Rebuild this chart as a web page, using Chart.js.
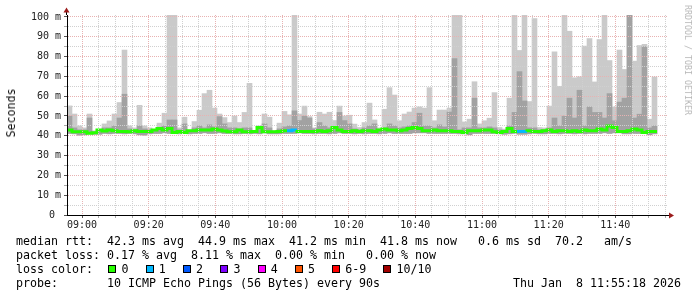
<!DOCTYPE html>
<html>
<head>
<meta charset="utf-8">
<script src="https://cdn.jsdelivr.net/npm/chart.js@4.4.1/dist/chart.umd.min.js"></script>
<style>
html,body{margin:0;padding:0;background:#fff;}
#wrap{position:relative;width:697px;height:297px;overflow:hidden;background:#fff;}
#c{position:absolute;left:0;top:0;}
.t{position:absolute;font-family:"DejaVu Sans Mono",monospace;font-size:11.63px;line-height:14px;white-space:pre;color:#000;}
.box{position:absolute;width:6px;height:6px;border:1px solid #000;}
.rot{position:absolute;white-space:pre;font-family:"DejaVu Sans Mono",monospace;transform-origin:center center;}
</style>
</head>
<body>
<div id="wrap">
<canvas id="c" width="697" height="297"></canvas>
</div>
<script>
// ---- data: one column every 90 s starting 08:55:30 (minutes relative to 09:00) ----
const startMinute = -4.5;
const stepMinutes = 1.5;

const maxRtt = [
  55.1, 51, 45, 44, 51, 42.5, 42.5, 46, 47.5, 51,
  56.8, 83.3, 45, 44, 55.4, 45, 44, 43, 46.4, 51.4,
  101, 101, 44, 49.4, 42.5, 47.2, 52.9, 61.3, 63, 54,
  51, 49.2, 46.7, 50, 46.7, 51.8, 66.5, 42.5, 45, 51,
  49.4, 42.5, 46.4, 52.3, 50.6, 101, 51, 55, 49.7, 44,
  51.9, 51, 51.9, 47.7, 55, 50, 50.4, 45.9, 44.2, 46.7,
  56.5, 48, 44, 53.4, 64.3, 60.6, 47.6, 51, 52, 54,
  54.6, 54, 64.3, 47.6, 53, 53, 54, 101, 101, 47,
  48.4, 67.3, 46, 47.6, 48.9, 61.8, 44.2, 43.4, 59, 101,
  83.1, 101, 57.3, 99.2, 44.2, 44, 55, 82.4, 65, 101,
  92.8, 69.3, 69.8, 85.3, 89.1, 67.2, 88.6, 101, 78, 54.6,
  83.3, 73.5, 101, 77.7, 85.6, 86.2, 48.4, 69.7
];
const upperRtt = [
  50, 44, 43, 43, 49, 42, 42, 44, 44, 45,
  49, 61, 43.5, 43, 45, 43.5, 43, 42.8, 44, 45,
  48, 48, 43, 46, 42.3, 44, 45, 44, 45.5, 44.5,
  49.7, 46, 44, 44, 43.5, 44, 44, 42.3, 43.5, 46,
  44, 42.3, 43.5, 44.5, 45, 52.6, 47.7, 50, 49, 43.5,
  46.7, 45, 44, 44, 51.8, 47.7, 46, 43.5, 43, 44,
  45, 46, 43, 44, 46, 45, 44, 44.5, 45, 46.7,
  51.4, 45, 45, 44, 45.5, 44.5, 52, 79, 43, 44,
  44, 59, 44, 44, 44.5, 44, 43, 42.8, 45, 51.8,
  72.4, 57.6, 44, 44, 43, 43, 44, 49, 45, 50,
  59, 49, 63, 45, 54.6, 51.8, 51.8, 49, 61.3, 47.6,
  57, 59, 101, 49, 50.9, 85, 44, 45
];
const medianRtt = [
  42.9, 42.9, 42, 42, 42, 41.3, 41.5, 42.9, 42.4, 42.9,
  42.5, 42.2, 42.2, 42, 42.5, 42.2, 42.2, 42.2, 42.9, 43.7,
  42.9, 43.7, 41.7, 42.2, 41.7, 42.5, 42.5, 42.9, 42.9, 42.9,
  43.4, 42.9, 42.4, 42, 42, 42.9, 42, 42, 42.2, 44.2,
  42, 42, 42, 42.2, 42.5, 42.5, 42.9, 42.2, 42.2, 42.2,
  42.2, 42.5, 42.2, 42.5, 44.2, 42.9, 42.2, 42.2, 42.5, 42.2,
  42.5, 42.5, 42.2, 42.9, 43.4, 42.9, 42.9, 42.5, 42.9, 43.7,
  44.2, 43.7, 42.5, 42.5, 42.9, 42.5, 42.5, 42.5, 42.2, 42.2,
  41.7, 42.5, 42.5, 42.5, 42.9, 42.9, 42, 41.7, 42.2, 43.7,
  42.2, 42.2, 42.2, 42.5, 42.2, 42.2, 42.5, 42.9, 42.2, 42.5,
  42.5, 42.2, 42.5, 42.2, 42.9, 42.5, 42.5, 43.4, 42.9, 44.9,
  44.2, 42.2, 42.2, 42.5, 43.4, 42.9, 41.7, 42.2
];
const minRtt = [
  41.2, 41.0, 40.3, 40.5, 41.0, 40.8, 40.8, 41.2, 41.0, 41.2,
  41.2, 41.0, 41.2, 41.0, 40.5, 40.3, 41.0, 41.2, 41.2, 41.5,
  41.2, 41.5, 41.0, 41.2, 41.0, 41.2, 41.2, 41.5, 41.2, 41.2,
  41.5, 41.2, 41.2, 41.0, 41.0, 41.2, 41.0, 41.2, 41.0, 41.5,
  41.0, 41.0, 41.0, 41.2, 41.2, 41.2, 41.5, 41.2, 41.2, 41.0,
  41.2, 41.2, 41.0, 41.2, 41.5, 41.2, 41.2, 41.0, 41.2, 41.0,
  41.2, 41.2, 41.0, 41.2, 41.5, 41.2, 41.2, 41.2, 41.2, 41.5,
  41.5, 41.5, 41.2, 41.2, 41.2, 41.2, 41.2, 41.2, 41.0, 41.0,
  40.5, 41.2, 41.2, 41.2, 41.2, 41.2, 41.0, 40.8, 41.0, 41.2,
  40.8, 40.8, 41.0, 41.2, 41.0, 41.0, 41.2, 41.2, 41.0, 41.2,
  41.2, 41.0, 41.2, 41.0, 41.2, 41.2, 41.2, 41.5, 41.2, 41.5,
  41.5, 41.0, 41.0, 41.2, 41.2, 41.2, 40.5, 41.0
];
const lossCount = [
  0,0,0,0,0,0,0,0,0,0, 0,0,0,0,0,0,0,0,0,0,
  0,0,0,0,0,0,0,0,0,0, 0,0,0,0,0,0,0,0,0,0,
  0,0,0,0,1,1,0,0,0,0, 0,0,0,0,0,0,0,0,0,0,
  0,0,0,0,0,0,0,0,0,0, 0,0,0,0,0,0,0,0,0,0,
  0,0,0,0,0,0,0,0,0,0, 1,1,0,0,0,0,0,0,0,0,
  0,0,0,0,0,0,0,0,0,0, 0,0,0,0,0,0,0,0
];

const xTickLabels = ['09:00','09:20','09:40','10:00','10:20','10:40','11:00','11:20','11:40'];
const yTickLabels = ['0 ','10 m','20 m','30 m','40 m','50 m','60 m','70 m','80 m','90 m','100 m'];
const lossLabels = ['0','1','2','3','4','5','6-9','10/10'];
const lossColors = ['#26ff00','#00b8ff','#0059ff','#7e00ff','#ff00ff','#ff5500','#ff0000','#a10000'];

const statsLine1 = 'median rtt:  42.3 ms avg  44.9 ms max  41.2 ms min  41.8 ms now   0.6 ms sd  70.2   am/s';
const statsLine2 = 'packet loss: 0.17 % avg  8.11 % max  0.00 % min   0.00 % now';
const lossTitle = 'loss color:';
const probeLine = 'probe:       10 ICMP Echo Pings (56 Bytes) every 90s';
const dateText = 'Thu Jan  8 11:55:18 2026';
const yTitle = 'Seconds';
const sideText = 'RRDTOOL / TOBI OETIKER';

// ---- build chart ----
const colCenters = medianRtt.map((_, i) => startMinute + stepMinutes * (i + 0.5));
const band = (lo, hi) => colCenters.map((x, i) => ({x: x, y: [lo[i], hi[i]]}));
const medianPts = medianRtt.map((m, i) => ({x: startMinute + stepMinutes * i, y: m}));
medianPts.push({x: startMinute + stepMinutes * medianRtt.length, y: medianRtt[medianRtt.length - 1]});

const xGridValues = []; for (let v = 0; v <= 175; v += 5) xGridValues.push(v);
const yGridValues = []; for (let v = 0; v <= 100; v += 5) yGridValues.push(v);

const MAJOR = '#e8b2b2';
const MINOR = '#d0d0d0';

const arrows = {
  id: 'arrows',
  afterDraw(chart) {
    const {ctx, chartArea: a} = chart;
    ctx.save();
    ctx.strokeStyle = '#000'; ctx.lineWidth = 1;
    ctx.beginPath(); ctx.moveTo(a.left - 0.5, a.top); ctx.lineTo(a.left - 0.5, a.top - 3); ctx.stroke();
    ctx.beginPath(); ctx.moveTo(a.right, a.bottom + 0.5); ctx.lineTo(a.right + 2, a.bottom + 0.5); ctx.stroke();
    ctx.fillStyle = '#9b1c1c';
    ctx.beginPath(); ctx.moveTo(a.left - 3.5, a.top - 2.5); ctx.lineTo(a.left + 2.5, a.top - 2.5); ctx.lineTo(a.left - 0.5, a.top - 7.5); ctx.closePath(); ctx.fill();
    ctx.beginPath(); ctx.moveTo(a.right + 2, a.bottom - 2.5); ctx.lineTo(a.right + 2, a.bottom + 3.5); ctx.lineTo(a.right + 7, a.bottom + 0.5); ctx.closePath(); ctx.fill();
    ctx.restore();
  }
};

new Chart(document.getElementById('c'), {
  type: 'bar',
  data: {
    datasets: [
      {
        type: 'line', data: medianPts, stepped: 'after', borderWidth: 3,
        borderColor: lossColors[0], pointRadius: 0, order: 0,
        borderCapStyle: 'butt', borderJoinStyle: 'miter',
        segment: { borderColor: c => lossColors[lossCount[c.p0DataIndex]] || lossColors[0] }
      },
      { data: band(minRtt, upperRtt), backgroundColor: '#a2a2a2', order: 1, grouped: false },
      { data: band(minRtt, maxRtt), backgroundColor: '#cacaca', order: 2, grouped: false }
    ]
  },
  options: {
    responsive: false, animation: false, devicePixelRatio: 1,
    layout: { padding: { left: 0, right: 30, top: 15, bottom: 0 } },
    plugins: { legend: { display: false }, tooltip: { enabled: false }, title: { display: false } },
    datasets: { bar: { barPercentage: 1, categoryPercentage: 1, borderWidth: 0, borderSkipped: false } },
    scales: {
      x: {
        type: 'linear', min: startMinute, max: startMinute + 180, offset: false,
        afterBuildTicks: s => { s.ticks = xGridValues.map(v => ({value: v})); },
        afterFit: s => { s.height = 82; },
        grid: {
          offset: false, z: 1, lineWidth: 1, tickLength: 3,
          color: c => (c.tick && c.tick.value % 20 === 0) ? MAJOR : MINOR,
          tickColor: c => (c.tick && c.tick.value % 20 === 0) ? '#555' : '#aaa'
        },
        border: { display: true, color: '#000', width: 1, dash: [1, 1], z: 2 },
        ticks: {
          autoSkip: false, maxRotation: 0, minRotation: 0, padding: 1, color: '#222',
          font: { family: 'DejaVu Sans Mono', size: 10 },
          callback: v => (v % 20 === 0) ? xTickLabels[v / 20] : ''
        }
      },
      y: {
        type: 'linear', min: 0, max: 101,
        afterBuildTicks: s => { s.ticks = yGridValues.map(v => ({value: v})); },
        afterFit: s => { s.width = 67; },
        grid: {
          z: 1, lineWidth: 1, tickLength: 3,
          color: c => (c.tick && c.tick.value % 10 === 0) ? MAJOR : MINOR,
          tickColor: c => (c.tick && c.tick.value % 10 === 0) ? '#555' : '#aaa'
        },
        border: { display: true, color: '#000', width: 1, dash: [1, 1], z: 2 },
        ticks: {
          autoSkip: false, padding: 3, color: '#222',
          font: { family: 'DejaVu Sans Mono', size: 10 },
          callback: v => (v % 10 === 0) ? yTickLabels[v / 10] : ''
        }
      }
    }
  },
  plugins: [arrows]
});

// ---- text legend (HTML) ----
const wrap = document.getElementById('wrap');
function addText(str, left, top, cls) {
  const d = document.createElement('div');
  d.className = cls || 't';
  d.textContent = str;
  d.style.left = left + 'px';
  d.style.top = top + 'px';
  wrap.appendChild(d);
  return d;
}
addText(statsLine1, 16, 234);
addText(statsLine2, 16, 247.9);
addText(lossTitle, 16, 261.8);
addText(probeLine, 16, 275.7);
addText(dateText, 513, 275.7);

let bx = 108.3;
lossLabels.forEach((lab, i) => {
  const b = document.createElement('div');
  b.className = 'box';
  b.style.left = bx + 'px';
  b.style.top = '264.5px';
  b.style.background = lossColors[i];
  wrap.appendChild(b);
  addText(lab, bx + 13.2, 261.8);
  bx += 30.3 + 7 * lab.length;
});

const yt = addText(yTitle, 11, 113, 'rot');
yt.style.fontSize = '11.6px';
yt.style.color = '#111';
yt.style.transform = 'translate(-50%,-50%) rotate(-90deg)';

const st = addText(sideText, 688, 60, 'rot');
st.style.fontSize = '8.3px';
st.style.color = '#b8b8b8';
st.style.transform = 'translate(-50%,-50%) rotate(90deg)';
</script>
</body>
</html>
